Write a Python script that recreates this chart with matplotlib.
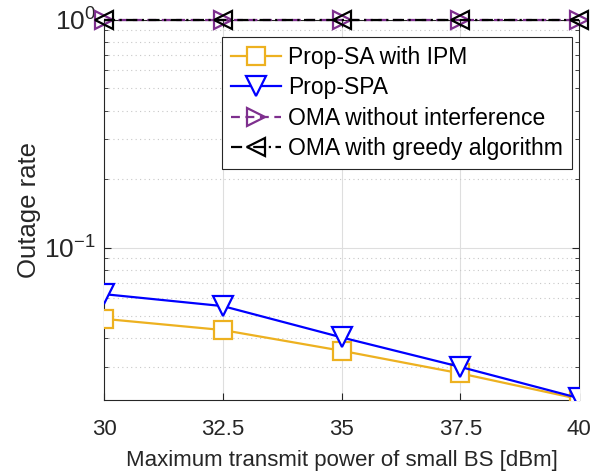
import matplotlib
matplotlib.use("Agg")
import matplotlib.pyplot as plt
from matplotlib.ticker import LogLocator, FixedLocator, NullFormatter, FixedFormatter

plt.rcParams['font.family'] = ['Liberation Sans', 'DejaVu Sans']
plt.rcParams['mathtext.fontset'] = 'custom'
plt.rcParams['mathtext.rm'] = 'Liberation Sans'
plt.rcParams['mathtext.it'] = 'Liberation Sans'

power = [30, 32.5, 35, 37.5, 40]
prop_sa = [0.0486, 0.0434, 0.0352, 0.0280, 0.0216]
prop_spa = [0.0624, 0.0553, 0.0403, 0.0299, 0.0218]
oma_noint = [1.0, 1.0, 1.0, 1.0, 1.0]
oma_greedy = [1.0, 1.0, 1.0, 1.0, 1.0]
labels = ['Prop-SA with IPM', 'Prop-SPA', 'OMA without interference', 'OMA with greedy algorithm']
xtick_labels = ['30', '32.5', '35', '37.5', '40']

fig = plt.figure(figsize=(6.13, 4.75), dpi=100)
ax = fig.add_axes([0.17, 0.158, 0.7745, 0.8])

ax.plot(power, prop_sa, color='#EDB120', lw=1.6, marker='s', ms=13, mfc='white', mew=1.6, label=labels[0], zorder=3)
ax.plot(power, prop_spa, color='#0000FF', lw=1.6, marker='v', ms=14, mfc='white', mew=1.6, label=labels[1], zorder=4)
ax.plot(power, oma_noint, color='#7E2F8E', lw=1.6, ls=(0, (4, 2.5)), marker='>', ms=13, mfc='none', mew=1.6, label=labels[2], zorder=5, clip_on=False)
ax.plot(power, oma_greedy, color='black', lw=1.6, ls=(0, (5, 2, 1, 2)), marker='<', ms=13, mfc='none', mew=1.6, label=labels[3], zorder=6, clip_on=False)

ax.set_yscale('log')
ax.set_xlim(30, 40)
ax.set_ylim(0.0214, 1.0)
ax.set_xticks(power)
ax.set_xticklabels(xtick_labels)
ax.yaxis.set_major_locator(FixedLocator([0.1, 1.0]))
ax.yaxis.set_major_formatter(FixedFormatter([r'$10^{-1}$', r'$10^{0}$']))
ax.yaxis.set_minor_locator(LogLocator(base=10, subs=[2, 3, 4, 5, 6, 7, 8, 9]))
ax.yaxis.set_minor_formatter(NullFormatter())

ax.grid(True, which='major', color='#DEDEDE', lw=0.8, ls='-')
ax.grid(True, which='minor', axis='y', color='#C8C8C8', lw=0.8, ls=(0, (1, 3)))
ax.set_axisbelow(True)

for s in ax.spines.values():
    s.set_color('#262626')
    s.set_linewidth(0.8)
ax.tick_params(which='both', direction='in', top=True, right=True, colors='#262626', labelcolor='#262626')
ax.tick_params(which='major', length=5)
ax.tick_params(which='minor', length=3)
ax.tick_params(axis='x', pad=14, labelsize=16)
ax.tick_params(axis='y', pad=6, labelsize=19)

ax.set_xlabel('Maximum transmit power of small BS [dBm]', fontsize=16, color='#262626', labelpad=7)
ax.set_ylabel('Outage rate', fontsize=18.5, color='#262626', labelpad=2)

leg = ax.legend(loc='upper right', bbox_to_anchor=(0.985, 0.955), fontsize=16.5, frameon=True, fancybox=False,
                edgecolor='#262626', framealpha=1, borderpad=0.38, labelspacing=0.33, handlelength=2.2,
                handletextpad=0.3, borderaxespad=0)
leg.get_frame().set_linewidth(0.8)

fig.savefig('out.png', dpi=100)
